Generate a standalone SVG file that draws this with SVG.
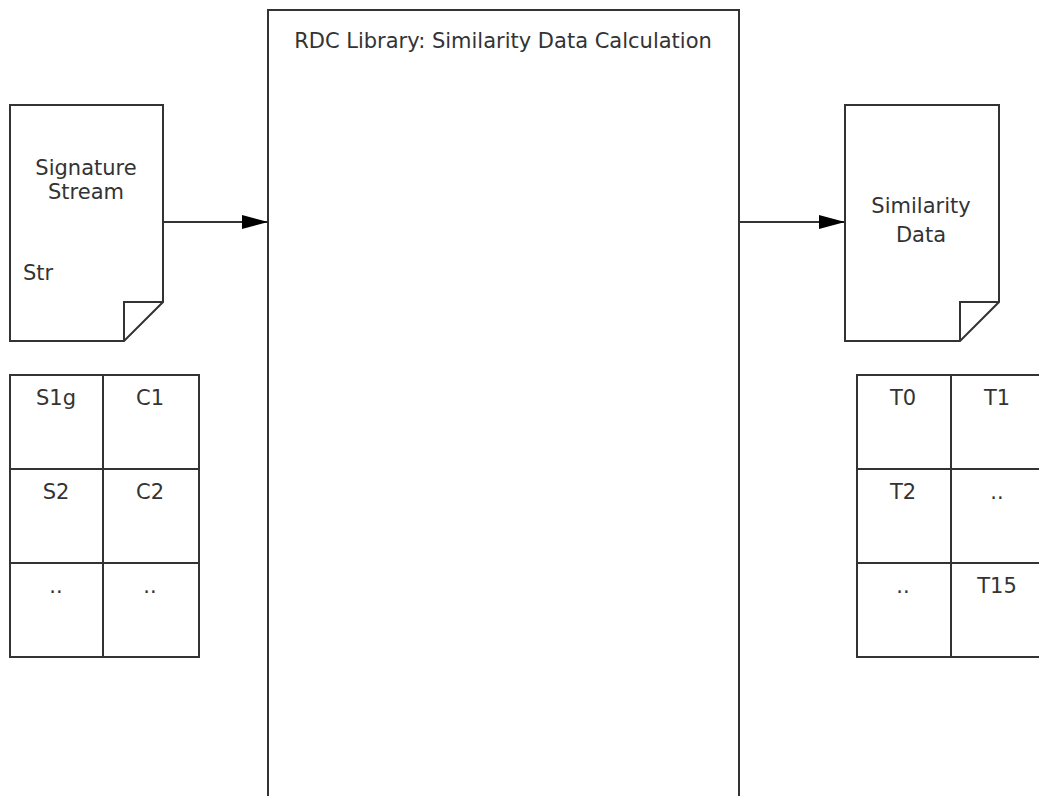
<svg xmlns="http://www.w3.org/2000/svg" width="1039" height="796" viewBox="0 0 1039 796">
<style>
.s{fill:#fff;stroke:#333;stroke-width:2}
.l{fill:none;stroke:#333;stroke-width:2}
.t{font-family:"DejaVu Sans",Verdana,sans-serif;font-size:21px;fill:#333}
.m{text-anchor:middle}
</style>
<defs>
<marker id="ah" markerWidth="26" markerHeight="16" refX="26" refY="8" orient="auto" markerUnits="userSpaceOnUse">
<path d="M0,1 L26,8 L0,15 Z" fill="#000"/>
</marker>
</defs>
<rect width="1039" height="796" fill="#fff"/>
<g id="rdc">
<path class="s" d="M268,800 V10 H739 V800"/>
<text class="t m" x="503" y="48">RDC Library: Similarity Data Calculation</text>
</g>
<g id="sigstream">
<path class="s" d="M10,105 H163 V302 L124,341 H10 Z"/>
<path class="l" d="M124,341 V302 H163"/>
<text class="t m" x="86" y="175">Signature</text>
<text class="t m" x="86" y="199">Stream</text>
<text class="t" x="23" y="280">Str</text>
</g>
<g id="simdata">
<path class="s" d="M845,105 H999 V302 L960,341 H845 Z"/>
<path class="l" d="M960,341 V302 H999"/>
<text class="t m" x="921" y="213">Similarity</text>
<text class="t m" x="921" y="242">Data</text>
</g>
<g id="sigtable">
<rect class="s" x="10" y="375" width="189" height="282"/>
<path class="l" d="M103,375 V657 M10,469 H199 M10,563 H199"/>
<text class="t m" x="56" y="405">S1g</text>
<text class="t m" x="150" y="405">C1</text>
<text class="t m" x="56" y="499">S2</text>
<text class="t m" x="150" y="499">C2</text>
<text class="t m" x="56" y="593">..</text>
<text class="t m" x="150" y="593">..</text>
</g>
<g id="simtable">
<rect class="s" x="857" y="375" width="189" height="282"/>
<path class="l" d="M951,375 V657 M857,469 H1046 M857,563 H1046"/>
<text class="t m" x="903" y="405">T0</text>
<text class="t m" x="997" y="405">T1</text>
<text class="t m" x="903" y="499">T2</text>
<text class="t m" x="997" y="499">..</text>
<text class="t m" x="903" y="593">..</text>
<text class="t m" x="997" y="593">T15</text>
</g>
<g id="connectors">
<line class="l" x1="163" y1="222" x2="268" y2="222" marker-end="url(#ah)"/>
<line class="l" x1="739" y1="222" x2="845" y2="222" marker-end="url(#ah)"/>
</g>
</svg>
